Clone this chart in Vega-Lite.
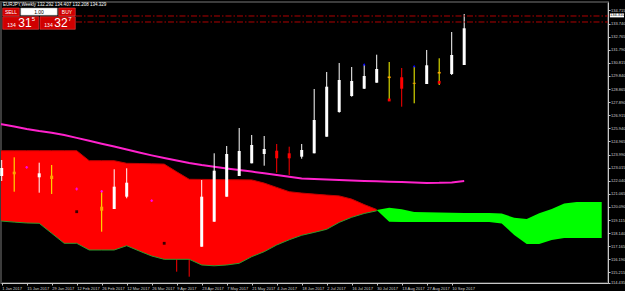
{
  "$schema": "https://vega.github.io/schema/vega-lite/v6.json",
  "width": 607,
  "height": 281,
  "autosize": {"type": "none"},
  "padding": {"left": 1, "top": 2, "right": 17, "bottom": 8},
  "background": "#000000",
  "config": {
    "view": {"fill": "#000000", "stroke": "#3c3c3c", "strokeWidth": 2},
    "font": "Liberation Sans",
    "axis": {"grid": false, "labelFont": "Liberation Sans", "labelFontSize": 4, "labelColor": "#d0d0d0", "domainColor": "#c8c8c8", "tickColor": "#c8c8c8", "tickSize": 2, "labelPadding": 1, "labelOverlap": false, "labelLimit": 0, "tickCount": 200}
  },
  "datasets": {
    "one": [{}],
    "candles": [
      {"t": "2017-01-01T00:00:00Z", "kind": "bull", "hi": 123.584, "lo": 122.021, "bt": 122.989, "bb": 122.393},
      {"t": "2017-01-08T00:00:00Z", "kind": "signal", "hi": 123.785, "lo": 121.225, "bt": 122.714, "bb": 122.52},
      {"t": "2017-01-22T00:00:00Z", "kind": "bull", "hi": 123.383, "lo": 121.15, "bt": 122.594, "bb": 122.297},
      {"t": "2017-01-29T00:00:00Z", "kind": "signal", "hi": 123.212, "lo": 121.054, "bt": 122.416, "bb": 122.17},
      {"t": "2017-02-26T00:00:00Z", "kind": "signal", "hi": 121.299, "lo": 118.248, "bt": 120.108, "bb": 119.811},
      {"t": "2017-03-05T00:00:00Z", "kind": "bull", "hi": 122.892, "lo": 119.937, "bt": 121.597, "bb": 119.937},
      {"t": "2017-03-12T00:00:00Z", "kind": "bull", "hi": 122.967, "lo": 120.734, "bt": 121.895, "bb": 120.853},
      {"t": "2017-04-23T00:00:00Z", "kind": "bull", "hi": 122.095, "lo": 117.131, "bt": 120.853, "bb": 117.131},
      {"t": "2017-04-30T00:00:00Z", "kind": "bull", "hi": 124.083, "lo": 118.992, "bt": 122.788, "bb": 118.992},
      {"t": "2017-05-07T00:00:00Z", "kind": "bull", "hi": 124.626, "lo": 120.853, "bt": 124.031, "bb": 120.853},
      {"t": "2017-05-14T00:00:00Z", "kind": "bull", "hi": 125.966, "lo": 122.393, "bt": 124.254, "bb": 122.393},
      {"t": "2017-05-21T00:00:00Z", "kind": "bull", "hi": 125.445, "lo": 123.338, "bt": 124.701, "bb": 123.338},
      {"t": "2017-05-28T00:00:00Z", "kind": "bull", "hi": 125.37, "lo": 123.16, "bt": 124.403, "bb": 124.031},
      {"t": "2017-06-04T00:00:00Z", "kind": "bear", "hi": 124.775, "lo": 122.639, "bt": 124.276, "bb": 123.711},
      {"t": "2017-06-11T00:00:00Z", "kind": "bear", "hi": 124.574, "lo": 122.468, "bt": 124.083, "bb": 123.711},
      {"t": "2017-06-18T00:00:00Z", "kind": "bull", "hi": 124.775, "lo": 123.681, "bt": 124.329, "bb": 123.83},
      {"t": "2017-06-25T00:00:00Z", "kind": "bull", "hi": 128.869, "lo": 124.083, "bt": 126.561, "bb": 124.083},
      {"t": "2017-07-02T00:00:00Z", "kind": "bull", "hi": 130.134, "lo": 125.318, "bt": 129.04, "bb": 125.318},
      {"t": "2017-07-09T00:00:00Z", "kind": "bull", "hi": 130.804, "lo": 127.105, "bt": 129.539, "bb": 127.157},
      {"t": "2017-07-16T00:00:00Z", "kind": "bull", "hi": 130.506, "lo": 128.296, "bt": 129.464, "bb": 128.348},
      {"t": "2017-07-23T00:00:00Z", "kind": "bull", "hi": 130.707, "lo": 128.869, "bt": 129.836, "bb": 128.891},
      {"t": "2017-07-30T00:00:00Z", "kind": "bull", "hi": 131.422, "lo": 129.338, "bt": 130.357, "bb": 129.338},
      {"t": "2017-08-06T00:00:00Z", "kind": "signal", "hi": 130.878, "lo": 127.998, "bt": 129.8, "bb": 129.68},
      {"t": "2017-08-13T00:00:00Z", "kind": "bear", "hi": 130.432, "lo": 127.551, "bt": 129.74, "bb": 128.891},
      {"t": "2017-08-20T00:00:00Z", "kind": "signal", "hi": 130.581, "lo": 127.804, "bt": 129.33, "bb": 129.26},
      {"t": "2017-08-27T00:00:00Z", "kind": "bull", "hi": 131.772, "lo": 129.241, "bt": 130.633, "bb": 129.241},
      {"t": "2017-09-03T00:00:00Z", "kind": "signal", "hi": 131.154, "lo": 129.166, "bt": 130.14, "bb": 130.02},
      {"t": "2017-09-10T00:00:00Z", "kind": "bull", "hi": 133.111, "lo": 129.911, "bt": 131.399, "bb": 129.985},
      {"t": "2017-09-17T00:00:00Z", "kind": "bull", "hi": 134.451, "lo": 130.655, "bt": 133.387, "bb": 130.655}
    ],
    "under": [
      {"t": "2017-04-09T00:00:00Z", "hi": 120.5, "lo": 115.271},
      {"t": "2017-04-16T00:00:00Z", "hi": 120.0, "lo": 114.898}
    ],
    "marks": [
      {"t": "2017-01-15T00:00:00Z", "type": "cross", "v": 123.041},
      {"t": "2017-02-12T00:00:00Z", "type": "cross", "v": 121.426},
      {"t": "2017-02-26T00:00:00Z", "type": "cross", "v": 121.254},
      {"t": "2017-03-26T00:00:00Z", "type": "cross", "v": 120.555},
      {"t": "2017-02-12T00:00:00Z", "type": "dark", "v": 119.736},
      {"t": "2017-04-02T00:00:00Z", "type": "dark", "v": 117.384},
      {"t": "2017-07-23T00:00:00Z", "type": "tri", "v": 130.707},
      {"t": "2017-08-20T00:00:00Z", "type": "tri", "v": 130.581},
      {"t": "2017-08-06T00:00:00Z", "type": "dot", "v": 128.05},
      {"t": "2017-09-03T00:00:00Z", "type": "dot", "v": 129.367}
    ],
    "cloud": [
      {"t": "2016-12-25T00:00:00Z", "s": "bear", "a": 124.276, "b": 119.037},
      {"t": "2017-01-01T00:00:00Z", "s": "bear", "a": 124.276, "b": 119.037},
      {"t": "2017-01-08T00:00:00Z", "s": "bear", "a": 124.276, "b": 118.962},
      {"t": "2017-01-15T00:00:00Z", "s": "bear", "a": 124.276, "b": 118.895},
      {"t": "2017-01-22T00:00:00Z", "s": "bear", "a": 124.276, "b": 118.873},
      {"t": "2017-01-29T00:00:00Z", "s": "bear", "a": 124.276, "b": 118.128},
      {"t": "2017-02-05T00:00:00Z", "s": "bear", "a": 124.276, "b": 117.384},
      {"t": "2017-02-12T00:00:00Z", "s": "bear", "a": 124.276, "b": 117.384},
      {"t": "2017-02-19T00:00:00Z", "s": "bear", "a": 123.532, "b": 116.885},
      {"t": "2017-02-26T00:00:00Z", "s": "bear", "a": 123.532, "b": 116.885},
      {"t": "2017-03-05T00:00:00Z", "s": "bear", "a": 123.532, "b": 116.885},
      {"t": "2017-03-12T00:00:00Z", "s": "bear", "a": 123.338, "b": 117.206},
      {"t": "2017-03-19T00:00:00Z", "s": "bear", "a": 123.324, "b": 116.811},
      {"t": "2017-03-26T00:00:00Z", "s": "bear", "a": 123.301, "b": 116.439},
      {"t": "2017-04-02T00:00:00Z", "s": "bear", "a": 123.279, "b": 116.193},
      {"t": "2017-04-09T00:00:00Z", "s": "bear", "a": 122.706, "b": 116.193},
      {"t": "2017-04-16T00:00:00Z", "s": "bear", "a": 122.148, "b": 116.193},
      {"t": "2017-04-23T00:00:00Z", "s": "bear", "a": 122.14, "b": 115.769},
      {"t": "2017-04-30T00:00:00Z", "s": "bear", "a": 122.133, "b": 115.709},
      {"t": "2017-05-07T00:00:00Z", "s": "bear", "a": 122.118, "b": 115.769},
      {"t": "2017-05-14T00:00:00Z", "s": "bear", "a": 122.11, "b": 115.896},
      {"t": "2017-05-21T00:00:00Z", "s": "bear", "a": 122.103, "b": 116.387},
      {"t": "2017-05-28T00:00:00Z", "s": "bear", "a": 121.865, "b": 116.759},
      {"t": "2017-06-04T00:00:00Z", "s": "bear", "a": 121.545, "b": 117.258},
      {"t": "2017-06-11T00:00:00Z", "s": "bear", "a": 121.225, "b": 117.645},
      {"t": "2017-06-18T00:00:00Z", "s": "bear", "a": 121.121, "b": 117.98},
      {"t": "2017-06-25T00:00:00Z", "s": "bear", "a": 121.046, "b": 118.195},
      {"t": "2017-07-02T00:00:00Z", "s": "bear", "a": 120.972, "b": 118.426},
      {"t": "2017-07-09T00:00:00Z", "s": "bear", "a": 120.912, "b": 118.94},
      {"t": "2017-07-16T00:00:00Z", "s": "bear", "a": 120.674, "b": 119.319},
      {"t": "2017-07-23T00:00:00Z", "s": "bear", "a": 120.265, "b": 119.602},
      {"t": "2017-07-30T00:00:00Z", "s": "bear", "a": 119.9, "b": 119.803},
      {"t": "2017-07-30T00:00:00Z", "s": "bull", "a": 119.863, "b": 119.863},
      {"t": "2017-08-06T00:00:00Z", "s": "bull", "a": 120.026, "b": 118.984},
      {"t": "2017-08-13T00:00:00Z", "s": "bull", "a": 119.922, "b": 118.97},
      {"t": "2017-08-20T00:00:00Z", "s": "bull", "a": 119.706, "b": 118.97},
      {"t": "2017-08-27T00:00:00Z", "s": "bull", "a": 119.691, "b": 118.97},
      {"t": "2017-09-03T00:00:00Z", "s": "bull", "a": 119.677, "b": 118.97},
      {"t": "2017-09-10T00:00:00Z", "s": "bull", "a": 119.662, "b": 118.97},
      {"t": "2017-09-17T00:00:00Z", "s": "bull", "a": 119.647, "b": 118.97},
      {"t": "2017-09-24T00:00:00Z", "s": "bull", "a": 119.639, "b": 118.97},
      {"t": "2017-10-01T00:00:00Z", "s": "bull", "a": 119.639, "b": 118.97},
      {"t": "2017-10-08T00:00:00Z", "s": "bull", "a": 119.602, "b": 118.866},
      {"t": "2017-10-15T00:00:00Z", "s": "bull", "a": 119.282, "b": 118.002},
      {"t": "2017-10-22T00:00:00Z", "s": "bull", "a": 119.193, "b": 117.332},
      {"t": "2017-10-29T00:00:00Z", "s": "bull", "a": 119.617, "b": 117.332},
      {"t": "2017-11-05T00:00:00Z", "s": "bull", "a": 119.945, "b": 117.63},
      {"t": "2017-11-12T00:00:00Z", "s": "bull", "a": 120.354, "b": 117.779},
      {"t": "2017-11-19T00:00:00Z", "s": "bull", "a": 120.458, "b": 117.779},
      {"t": "2017-11-26T00:00:00Z", "s": "bull", "a": 120.458, "b": 117.779},
      {"t": "2017-12-03T00:00:00Z", "s": "bull", "a": 120.458, "b": 117.779}
    ],
    "ma": [
      {"t": "2016-12-25T00:00:00Z", "v": 126.34},
      {"t": "2017-01-01T00:00:00Z", "v": 126.241},
      {"t": "2017-01-08T00:00:00Z", "v": 126.085},
      {"t": "2017-01-15T00:00:00Z", "v": 125.884},
      {"t": "2017-01-22T00:00:00Z", "v": 125.735},
      {"t": "2017-01-29T00:00:00Z", "v": 125.609},
      {"t": "2017-02-05T00:00:00Z", "v": 125.445},
      {"t": "2017-02-12T00:00:00Z", "v": 125.229},
      {"t": "2017-02-19T00:00:00Z", "v": 125.013},
      {"t": "2017-02-26T00:00:00Z", "v": 124.797},
      {"t": "2017-03-05T00:00:00Z", "v": 124.582},
      {"t": "2017-03-12T00:00:00Z", "v": 124.366},
      {"t": "2017-03-19T00:00:00Z", "v": 124.142},
      {"t": "2017-03-26T00:00:00Z", "v": 123.927},
      {"t": "2017-04-02T00:00:00Z", "v": 123.733},
      {"t": "2017-04-09T00:00:00Z", "v": 123.547},
      {"t": "2017-04-16T00:00:00Z", "v": 123.353},
      {"t": "2017-04-23T00:00:00Z", "v": 123.205},
      {"t": "2017-04-30T00:00:00Z", "v": 123.078},
      {"t": "2017-05-07T00:00:00Z", "v": 122.959},
      {"t": "2017-05-14T00:00:00Z", "v": 122.847},
      {"t": "2017-05-21T00:00:00Z", "v": 122.721},
      {"t": "2017-05-28T00:00:00Z", "v": 122.594},
      {"t": "2017-06-04T00:00:00Z", "v": 122.46},
      {"t": "2017-06-11T00:00:00Z", "v": 122.334},
      {"t": "2017-06-18T00:00:00Z", "v": 122.215},
      {"t": "2017-06-25T00:00:00Z", "v": 122.17},
      {"t": "2017-07-02T00:00:00Z", "v": 122.133},
      {"t": "2017-07-09T00:00:00Z", "v": 122.096},
      {"t": "2017-07-16T00:00:00Z", "v": 122.051},
      {"t": "2017-07-23T00:00:00Z", "v": 122.021},
      {"t": "2017-07-30T00:00:00Z", "v": 121.999},
      {"t": "2017-08-06T00:00:00Z", "v": 121.969},
      {"t": "2017-08-13T00:00:00Z", "v": 121.939},
      {"t": "2017-08-20T00:00:00Z", "v": 121.91},
      {"t": "2017-08-27T00:00:00Z", "v": 121.88},
      {"t": "2017-09-03T00:00:00Z", "v": 121.887},
      {"t": "2017-09-10T00:00:00Z", "v": 121.917},
      {"t": "2017-09-17T00:00:00Z", "v": 122.014}
    ]
  },
  "resolve": {"scale": {"color": "independent", "shape": "independent"}},
  "layer": [
    {
      "data": {"name": "under"},
      "mark": {"type": "rule", "color": "#ff0000", "strokeWidth": 1, "clip": true},
      "encoding": {
        "x": {"field": "t", "type": "temporal", "title": null,
          "scale": {"type": "utc", "domain": [1483194931000, 1512564192000], "nice": false},
          "axis": {"orient": "bottom", "title": null, "labelAlign": "left", "labelBaseline": "top", "labelOverlap": false, "labelFontSize": 4, "tickCount": 200,
            "values": [1483228800000, 1484438400000, 1485648000000, 1486857600000, 1488067200000, 1489276800000, 1490486400000, 1491696000000, 1492905600000, 1494115200000, 1495324800000, 1496534400000, 1497744000000, 1498953600000, 1500163200000, 1501372800000, 1502582400000, 1503792000000, 1505001600000],
            "labelExpr": "utcFormat(datum.value, '%-d %b %Y')"}},
        "y": {"field": "lo", "type": "quantitative", "title": null,
          "scale": {"domain": [114.429, 135.344], "zero": false, "nice": false},
          "axis": {"orient": "right", "title": null, "format": ".3f", "labelOverlap": false, "labelFontSize": 4, "labelPadding": 0.5, "labelBound": false, "tickCount": 200,
            "values": [134.715, 133.74, 132.765, 131.79, 130.815, 129.84, 128.865, 127.89, 126.915, 125.94, 124.965, 123.99, 123.015, 122.04, 121.065, 120.09, 119.115, 118.14, 117.165, 116.19, 115.215, 114.435]}},
        "y2": {"field": "hi"}
      }
    },
    {
      "data": {"name": "cloud"},
      "mark": {"type": "area", "clip": true, "opacity": 1},
      "encoding": {
        "x": {"field": "t", "type": "temporal", "title": null},
        "y": {"field": "a", "type": "quantitative", "title": null},
        "y2": {"field": "b"},
        "color": {"field": "s", "type": "nominal", "legend": null, "scale": {"domain": ["bear", "bull"], "range": ["#ff0000", "#00ff00"]}}
      }
    },
    {
      "data": {"name": "cloud"},
      "transform": [{"filter": "datum.s == 'bear'"}],
      "mark": {"type": "line", "color": "#c00000", "strokeWidth": 1, "clip": true},
      "encoding": {
        "x": {"field": "t", "type": "temporal", "title": null},
        "y": {"field": "a", "type": "quantitative", "title": null}
      }
    },
    {
      "data": {"name": "cloud"},
      "transform": [{"filter": "datum.s == 'bear'"}],
      "mark": {"type": "line", "color": "#2e9a2e", "strokeWidth": 1, "clip": true},
      "encoding": {
        "x": {"field": "t", "type": "temporal", "title": null},
        "y": {"field": "b", "type": "quantitative", "title": null}
      }
    },
    {
      "data": {"name": "ma"},
      "mark": {"type": "line", "color": "#ff22cc", "strokeWidth": 2, "clip": true},
      "encoding": {
        "x": {"field": "t", "type": "temporal", "title": null},
        "y": {"field": "v", "type": "quantitative", "title": null}
      }
    },
    {
      "data": {"name": "candles"},
      "mark": {"type": "rule", "strokeWidth": 1},
      "encoding": {
        "x": {"field": "t", "type": "temporal", "title": null},
        "y": {"field": "lo", "type": "quantitative", "title": null},
        "y2": {"field": "hi"},
        "color": {"field": "kind", "type": "nominal", "legend": null, "scale": {"domain": ["bull", "bear", "signal"], "range": ["#ffffff", "#ff0000", "#ffff00"]}}
      }
    },
    {
      "data": {"name": "candles"},
      "mark": {"type": "rule", "strokeWidth": 3},
      "encoding": {
        "x": {"field": "t", "type": "temporal", "title": null},
        "y": {"field": "bb", "type": "quantitative", "title": null},
        "y2": {"field": "bt"},
        "color": {"field": "kind", "type": "nominal", "legend": null, "scale": {"domain": ["bull", "bear", "signal"], "range": ["#ffffff", "#ff0000", "#ffa500"]}}
      }
    },
    {
      "data": {"name": "marks"},
      "mark": {"type": "point", "filled": true, "size": 8, "opacity": 1},
      "encoding": {
        "x": {"field": "t", "type": "temporal", "title": null},
        "y": {"field": "v", "type": "quantitative", "title": null},
        "shape": {"field": "type", "type": "nominal", "legend": null, "scale": {"domain": ["cross", "dark", "tri", "dot"], "range": ["cross", "square", "triangle-up", "square"]}},
        "color": {"field": "type", "type": "nominal", "legend": null, "scale": {"domain": ["cross", "dark", "tri", "dot"], "range": ["#ff00ff", "#3a0000", "#0000ff", "#ff0000"]}}
      }
    },
    {
      "data": {"name": "one"},
      "mark": {"type": "rule", "color": "#b00000", "strokeWidth": 1, "strokeDash": [6, 2, 1.5, 2]},
      "encoding": {
        "x": {"datum": {"year": 2017, "month": 2, "date": 11, "hours": 14, "minutes": 30, "utc": true}, "type": "temporal"},
        "x2": {"datum": {"year": 2017, "month": 12, "date": 6, "hours": 12, "minutes": 45, "utc": true}},
        "y": {"datum": 134.302, "type": "quantitative"}
      }
    },
    {
      "data": {"name": "one"},
      "mark": {"type": "rule", "color": "#b00000", "strokeWidth": 1, "strokeDash": [6, 2, 1.5, 2]},
      "encoding": {
        "x": {"datum": {"year": 2017, "month": 2, "date": 11, "hours": 14, "minutes": 30, "utc": true}, "type": "temporal"},
        "x2": {"datum": {"year": 2017, "month": 12, "date": 6, "hours": 12, "minutes": 45, "utc": true}},
        "y": {"datum": 133.856, "type": "quantitative"}
      }
    },
    {
      "data": {"name": "one"},
      "mark": {"type": "rect", "color": "#d00000", "stroke": "#ff5050", "strokeWidth": 0.5},
      "encoding": {
        "x": {"datum": {"year": 2017, "month": 1, "date": 1, "hours": 13, "minutes": 26, "utc": true}, "type": "temporal"},
        "x2": {"datum": {"year": 2017, "month": 1, "date": 10, "hours": 20, "minutes": 38, "utc": true}},
        "y": {"datum": 134.898, "type": "quantitative"},
        "y2": {"datum": 134.302}
      }
    },
    {
      "data": {"name": "one"},
      "mark": {"type": "rect", "color": "#ffffff", "stroke": "#909090", "strokeWidth": 0.5},
      "encoding": {
        "x": {"datum": {"year": 2017, "month": 1, "date": 11, "hours": 15, "minutes": 22, "utc": true}, "type": "temporal"},
        "x2": {"datum": {"year": 2017, "month": 2, "date": 1, "hours": 3, "minutes": 22, "utc": true}},
        "y": {"datum": 134.898, "type": "quantitative"},
        "y2": {"datum": 134.354}
      }
    },
    {
      "data": {"name": "one"},
      "mark": {"type": "rect", "color": "#d00000", "stroke": "#ff5050", "strokeWidth": 0.5},
      "encoding": {
        "x": {"datum": {"year": 2017, "month": 2, "date": 1, "hours": 22, "minutes": 5, "utc": true}, "type": "temporal"},
        "x2": {"datum": {"year": 2017, "month": 2, "date": 11, "hours": 5, "minutes": 17, "utc": true}},
        "y": {"datum": 134.898, "type": "quantitative"},
        "y2": {"datum": 134.302}
      }
    },
    {
      "data": {"name": "one"},
      "mark": {"type": "rect", "color": "#d00000", "stroke": "#ff5050", "strokeWidth": 0.5},
      "encoding": {
        "x": {"datum": {"year": 2017, "month": 1, "date": 1, "hours": 13, "minutes": 26, "utc": true}, "type": "temporal"},
        "x2": {"datum": {"year": 2017, "month": 1, "date": 21, "hours": 17, "minutes": 17, "utc": true}},
        "y": {"datum": 134.25, "type": "quantitative"},
        "y2": {"datum": 133.312}
      }
    },
    {
      "data": {"name": "one"},
      "mark": {"type": "rect", "color": "#d00000", "stroke": "#ff5050", "strokeWidth": 0.5},
      "encoding": {
        "x": {"datum": {"year": 2017, "month": 1, "date": 22, "hours": 10, "minutes": 48, "utc": true}, "type": "temporal"},
        "x2": {"datum": {"year": 2017, "month": 2, "date": 11, "hours": 5, "minutes": 17, "utc": true}},
        "y": {"datum": 134.25, "type": "quantitative"},
        "y2": {"datum": 133.312}
      }
    },
    {
      "data": {"name": "one"},
      "mark": {"type": "text", "text": "SELL", "color": "#ffffff", "fontSize": 5, "align": "center", "baseline": "middle"},
      "encoding": {
        "x": {"datum": {"year": 2017, "month": 1, "date": 6, "hours": 5, "utc": true}, "type": "temporal"},
        "y": {"datum": 134.6, "type": "quantitative"}
      }
    },
    {
      "data": {"name": "one"},
      "mark": {"type": "text", "text": "BUY", "color": "#ffffff", "fontSize": 5, "align": "center", "baseline": "middle"},
      "encoding": {
        "x": {"datum": {"year": 2017, "month": 2, "date": 6, "hours": 13, "minutes": 40, "utc": true}, "type": "temporal"},
        "y": {"datum": 134.6, "type": "quantitative"}
      }
    },
    {
      "data": {"name": "one"},
      "mark": {"type": "text", "text": "1.00", "color": "#000000", "fontSize": 5, "align": "center", "baseline": "middle"},
      "encoding": {
        "x": {"datum": {"year": 2017, "month": 1, "date": 21, "hours": 21, "minutes": 20, "utc": true}, "type": "temporal"},
        "y": {"datum": 134.626, "type": "quantitative"}
      }
    },
    {
      "data": {"name": "one"},
      "mark": {"type": "text", "text": "134", "color": "#ffffff", "fontSize": 5, "align": "center", "baseline": "middle"},
      "encoding": {
        "x": {"datum": {"year": 2017, "month": 1, "date": 6, "hours": 11, "minutes": 45, "utc": true}, "type": "temporal"},
        "y": {"datum": 133.632, "type": "quantitative"}
      }
    },
    {
      "data": {"name": "one"},
      "mark": {"type": "text", "text": "31", "color": "#ffffff", "fontSize": 12, "align": "center", "baseline": "middle"},
      "encoding": {
        "x": {"datum": {"year": 2017, "month": 1, "date": 14, "hours": 1, "minutes": 10, "utc": true}, "type": "temporal"},
        "y": {"datum": 133.781, "type": "quantitative"}
      }
    },
    {
      "data": {"name": "one"},
      "mark": {"type": "text", "text": "5", "color": "#ffffff", "fontSize": 6, "align": "center", "baseline": "middle"},
      "encoding": {
        "x": {"datum": {"year": 2017, "month": 1, "date": 18, "hours": 19, "minutes": 25, "utc": true}, "type": "temporal"},
        "y": {"datum": 134.08, "type": "quantitative"}
      }
    },
    {
      "data": {"name": "one"},
      "mark": {"type": "text", "text": "134", "color": "#ffffff", "fontSize": 5, "align": "center", "baseline": "middle"},
      "encoding": {
        "x": {"datum": {"year": 2017, "month": 1, "date": 27, "hours": 5, "utc": true}, "type": "temporal"},
        "y": {"datum": 133.632, "type": "quantitative"}
      }
    },
    {
      "data": {"name": "one"},
      "mark": {"type": "text", "text": "32", "color": "#ffffff", "fontSize": 12, "align": "center", "baseline": "middle"},
      "encoding": {
        "x": {"datum": {"year": 2017, "month": 2, "date": 3, "hours": 5, "utc": true}, "type": "temporal"},
        "y": {"datum": 133.781, "type": "quantitative"}
      }
    },
    {
      "data": {"name": "one"},
      "mark": {"type": "text", "text": "7", "color": "#ffffff", "fontSize": 6, "align": "center", "baseline": "middle"},
      "encoding": {
        "x": {"datum": {"year": 2017, "month": 2, "date": 8, "hours": 6, "utc": true}, "type": "temporal"},
        "y": {"datum": 134.08, "type": "quantitative"}
      }
    },
    {
      "data": {"name": "one"},
      "mark": {"type": "text", "text": "EURJPY,Weekly  132.292 134.407 132.208 134.329", "color": "#ffffff", "fontSize": 4.5, "align": "left", "baseline": "middle"},
      "encoding": {
        "x": {"datum": {"year": 2017, "month": 1, "date": 1, "hours": 17, "minutes": 30, "utc": true}, "type": "temporal"},
        "y": {"datum": 135.12, "type": "quantitative"}
      }
    },
    {
      "data": {"name": "one"},
      "mark": {"type": "rect", "color": "#ffffff"},
      "encoding": {
        "x": {"datum": {"year": 2017, "month": 12, "date": 7, "hours": 14, "utc": true}, "type": "temporal"},
        "x2": {"datum": {"year": 2017, "month": 12, "date": 15, "hours": 12, "utc": true}},
        "y": {"datum": 134.5, "type": "quantitative"},
        "y2": {"datum": 134.2}
      }
    },
    {
      "data": {"name": "one"},
      "mark": {"type": "text", "text": "134.310", "color": "#000000", "fontSize": 4, "align": "left", "baseline": "middle"},
      "encoding": {
        "x": {"datum": {"year": 2017, "month": 12, "date": 7, "hours": 16, "utc": true}, "type": "temporal"},
        "y": {"datum": 134.35, "type": "quantitative"}
      }
    }
  ]
}
